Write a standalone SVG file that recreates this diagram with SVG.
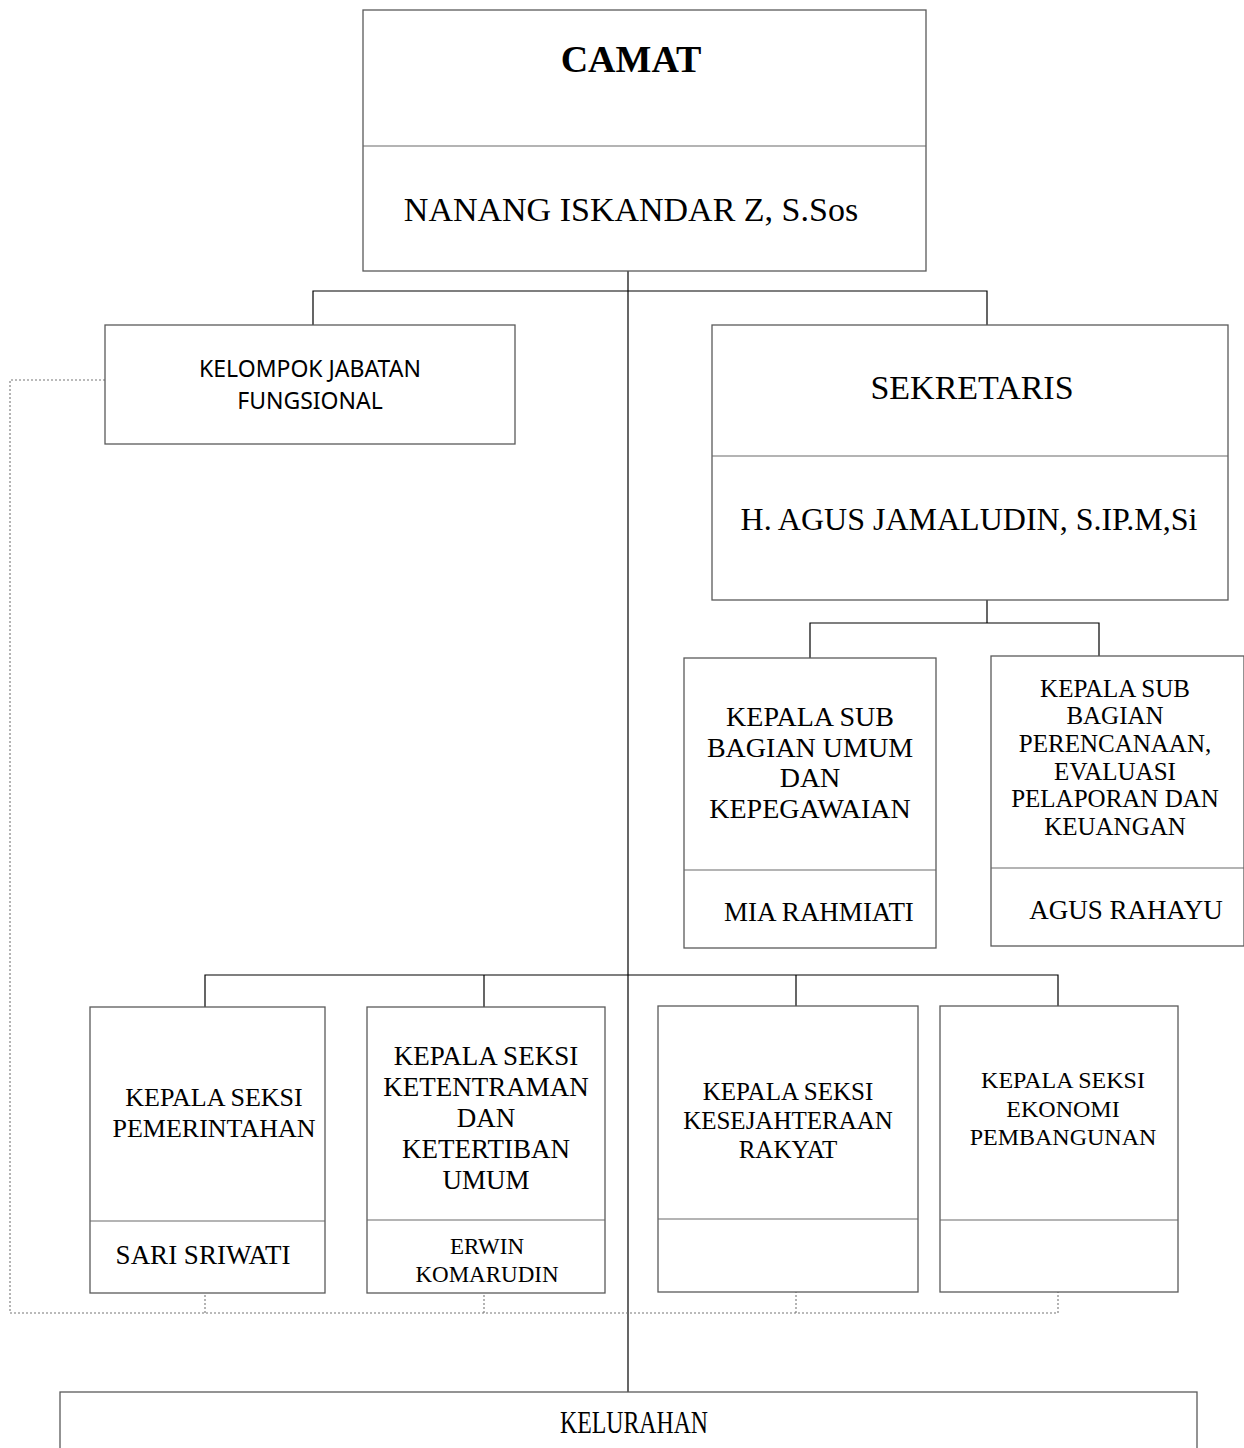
<svg xmlns="http://www.w3.org/2000/svg" width="1244" height="1448" viewBox="0 0 1244 1448">
<style>
.box{fill:#fff;stroke:#5a5a5a;stroke-width:1.3}
.div{stroke:#6a6a6a;stroke-width:1.2}
.ln{stroke:#000;stroke-width:1.2;fill:none}
.dot{stroke:#777;stroke-width:1.1;stroke-dasharray:2 2;fill:none}
text{font-family:"Liberation Serif","Times New Roman",serif;fill:#000;text-anchor:middle}
.sans{font-family:"Noto Sans","Open Sans",sans-serif}
</style>
<rect width="1244" height="1448" fill="#fff"/>
<g id="connectors">
<line class="ln" x1="628" y1="271" x2="628" y2="1392"/>
<polyline class="ln" points="313,325 313,291 987,291 987,325"/>
<polyline class="ln" points="987,600 987,623"/>
<polyline class="ln" points="810,658 810,623 1099,623 1099,656"/>
<polyline class="ln" points="205,1007 205,975 1058,975 1058,1006"/>
<line class="ln" x1="484" y1="975" x2="484" y2="1007"/>
<line class="ln" x1="796" y1="975" x2="796" y2="1006"/>
<polyline class="dot" points="105,380 10,380 10,1313 1058,1313 1058,1292"/>
<line class="dot" x1="205" y1="1313" x2="205" y2="1293"/>
<line class="dot" x1="484" y1="1313" x2="484" y2="1293"/>
<line class="dot" x1="796" y1="1313" x2="796" y2="1292"/>
</g>
<g id="camat">
<rect class="box" x="363" y="10" width="563" height="261"/>
<line class="div" x1="363" y1="146" x2="926" y2="146"/>
<text x="631" y="72" font-size="38" font-weight="bold">CAMAT</text>
<text x="631" y="221" font-size="34">NANANG ISKANDAR Z, S.Sos</text>
</g>
<g id="kelompok">
<rect class="box" x="105" y="325" width="410" height="119"/>
<text class="sans" x="310" y="377" font-size="23">KELOMPOK JABATAN</text>
<text class="sans" x="310" y="409" font-size="23">FUNGSIONAL</text>
</g>
<g id="sekretaris">
<rect class="box" x="712" y="325" width="516" height="275"/>
<line class="div" x1="712" y1="456" x2="1228" y2="456"/>
<text x="972" y="399" font-size="34">SEKRETARIS</text>
<text x="969" y="530" font-size="32">H. AGUS JAMALUDIN, S.IP.M,Si</text>
</g>
<g id="subbag-umum">
<rect class="box" x="684" y="658" width="252" height="290"/>
<line class="div" x1="684" y1="870" x2="936" y2="870"/>
<text x="810" y="726" font-size="28">KEPALA SUB</text>
<text x="810" y="757" font-size="28">BAGIAN UMUM</text>
<text x="810" y="787" font-size="28">DAN</text>
<text x="810" y="818" font-size="28">KEPEGAWAIAN</text>
<text x="819" y="921" font-size="27">MIA RAHMIATI</text>
</g>
<g id="subbag-perencanaan">
<rect class="box" x="991" y="656" width="253" height="290"/>
<line class="div" x1="991" y1="868" x2="1244" y2="868"/>
<text x="1115" y="697" font-size="25">KEPALA SUB</text>
<text x="1115" y="724" font-size="25">BAGIAN</text>
<text x="1115" y="752" font-size="25">PERENCANAAN,</text>
<text x="1115" y="780" font-size="25">EVALUASI</text>
<text x="1115" y="807" font-size="25">PELAPORAN DAN</text>
<text x="1115" y="835" font-size="25">KEUANGAN</text>
<text x="1126" y="919" font-size="27">AGUS RAHAYU</text>
</g>
<g id="seksi-pemerintahan">
<rect class="box" x="90" y="1007" width="235" height="286"/>
<line class="div" x1="90" y1="1221" x2="325" y2="1221"/>
<text x="214" y="1106" font-size="26">KEPALA SEKSI</text>
<text x="214" y="1137" font-size="26">PEMERINTAHAN</text>
<text x="203" y="1264" font-size="27">SARI SRIWATI</text>
</g>
<g id="seksi-trantib">
<rect class="box" x="367" y="1007" width="238" height="286"/>
<line class="div" x1="367" y1="1220" x2="605" y2="1220"/>
<text x="486" y="1065" font-size="27">KEPALA SEKSI</text>
<text x="486" y="1096" font-size="27">KETENTRAMAN</text>
<text x="486" y="1127" font-size="27">DAN</text>
<text x="486" y="1158" font-size="27">KETERTIBAN</text>
<text x="486" y="1189" font-size="27">UMUM</text>
<text x="487" y="1254" font-size="23">ERWIN</text>
<text x="487" y="1282" font-size="23">KOMARUDIN</text>
</g>
<g id="seksi-kesra">
<rect class="box" x="658" y="1006" width="260" height="286"/>
<line class="div" x1="658" y1="1219" x2="918" y2="1219"/>
<text x="788" y="1100" font-size="25">KEPALA SEKSI</text>
<text x="788" y="1129" font-size="25">KESEJAHTERAAN</text>
<text x="788" y="1158" font-size="25">RAKYAT</text>
</g>
<g id="seksi-ekbang">
<rect class="box" x="940" y="1006" width="238" height="286"/>
<line class="div" x1="940" y1="1220" x2="1178" y2="1220"/>
<text x="1063" y="1088" font-size="24">KEPALA SEKSI</text>
<text x="1063" y="1117" font-size="24">EKONOMI</text>
<text x="1063" y="1145" font-size="24">PEMBANGUNAN</text>
</g>
<g id="kelurahan">
<rect class="box" x="60" y="1392" width="1137" height="70"/>
<text x="634" y="1433" font-size="32" textLength="148" lengthAdjust="spacingAndGlyphs">KELURAHAN</text>
</g>
</svg>
